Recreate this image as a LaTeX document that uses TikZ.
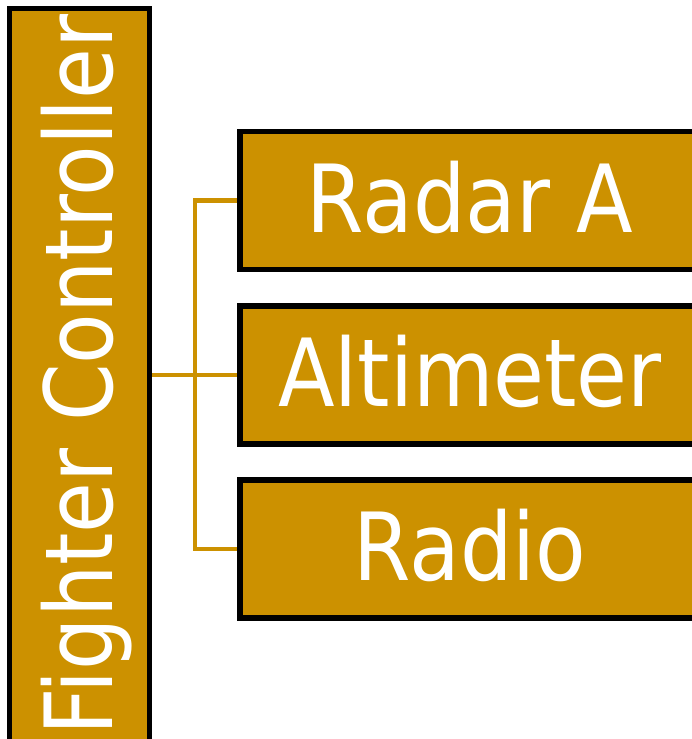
\documentclass[tikz,border=0pt]{standalone}
\usepackage{fontspec}
\setmainfont{DejaVu Sans}[FakeStretch=0.88]
\definecolor{gold}{RGB}{204,145,0}
\begin{document}
\begin{tikzpicture}[x=1pt,y=1pt,
  box/.style={draw=black, line width=5.8pt, fill=gold, inner sep=0pt, line join=miter},
  lbl/.style={text=white, font=\fontsize{94}{110}\selectfont, anchor=base, inner sep=0pt},
  conn/.style={draw=gold, line width=4.8pt}]
\useasboundingbox (0,0) rectangle (692,739);
\fill[white] (0,0) rectangle (692,739);
\coordinate (j) at (195,364);
\node[box, minimum width=140pt, minimum height=733.5pt] (fc) at (79.5,363.75) {};
\node[box, minimum width=460pt, minimum height=138pt] (radar) at (470,538.5) {};
\node[box, minimum width=460pt, minimum height=138pt] (alt) at (470,364) {};
\node[box, minimum width=460pt, minimum height=138pt] (radio) at (470,190) {};
\draw[conn] (fc.east |- alt.west) -- (alt.west);
\draw[conn] (radar.west) -| (j) |- (radio.west);
\node[lbl, rotate=90] (fct) at (112,364) {Fighter Controller};
\node[lbl] (radart) at ([yshift=-32pt]radar.center) {Radar A};
\node[lbl] (altt) at ([yshift=-32pt]alt.center) {Altimeter};
\node[lbl] (radiot) at ([yshift=-32pt]radio.center) {Radio};
\end{tikzpicture}
\end{document}
